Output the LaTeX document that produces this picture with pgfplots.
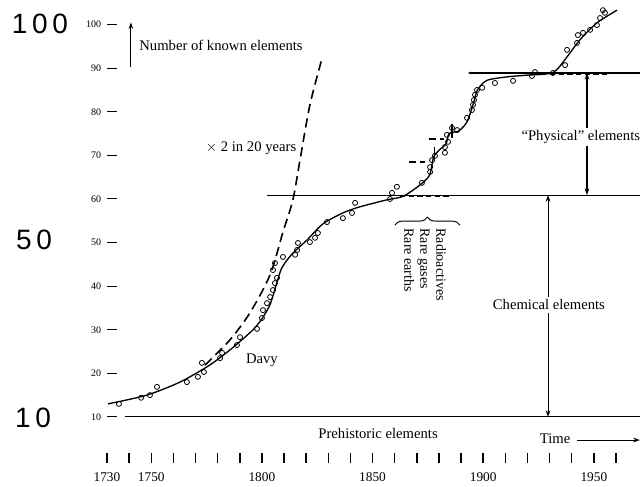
\documentclass[border=0pt]{standalone}
\usepackage{pgfplots}
\pgfplotsset{compat=1.18}
\usepackage{fontspec}
\setmainfont{Liberation Serif}
\newfontfamily\hand{Liberation Sans}
\usetikzlibrary{decorations.pathreplacing,arrows.meta}

\pgfplotstableread{
x y
1730.5 13.0
1748.0 15.0
1763.0 18.0
1775.2 21.5
1781.1 23.6
1785.6 25.4
1790.1 27.3
1796.0 30.0
1800.0 32.5
1803.7 35.8
1806.6 40.5
1809.0 44.2
1813.5 47.3
1820.4 50.6
1827.6 54.3
1836.6 56.8
1844.3 58.2
1856.5 59.8
1863.8 60.6
1871.4 63.2
1875.8 65.5
1877.6 69.6
1880.5 71.4
1883.2 72.6
1884.6 75.0
1889.0 75.6
1892.7 77.7
1895.4 81.6
1897.4 85.0
1901.7 87.2
1910.7 88.0
1919.8 88.4
1931.5 89.0
1937.9 92.6
1943.7 96.5
1951.4 100.4
1960.5 103.3
}\curve

\pgfplotstableread{
x y
1774.3 21.9
1785.6 27.7
1794.6 33.9
1803.7 42.6
1809.5 52.4
1814.0 59.8
1817.2 68.9
1821.7 81.6
1827.2 92.3
}\doubling

\pgfplotstableread{
x y
1735.4 13.0
1745.4 14.4
1749.4 15.0
1752.6 16.9
1766.1 18.0
1771.1 19.2
1772.9 22.4
1773.8 20.3
1781.1 23.5
1782.0 24.7
1788.7 26.5
1790.1 28.3
1797.8 30.2
1800.0 32.7
1800.5 34.5
1802.3 36.1
1803.7 37.5
1805.0 39.1
1805.9 40.7
1806.8 41.9
1805.0 43.7
1805.9 45.3
1809.5 46.7
1815.0 47.2
1815.9 48.3
1816.3 49.9
1821.7 50.1
1824.0 51.1
1825.3 52.2
1829.4 54.7
1836.6 55.6
1840.7 56.8
1842.1 59.1
1857.9 60.0
1858.8 61.4
1861.0 62.8
1872.3 63.7
1876.0 66.2
1876.0 67.3
1876.9 68.9
1878.2 69.9
1882.7 70.6
1882.7 71.9
1884.1 73.1
1883.6 74.7
1885.9 76.3
1888.2 75.8
1892.7 78.6
1894.9 80.4
1895.4 81.6
1895.8 82.7
1896.3 83.9
1897.2 85.0
1899.5 85.5
1905.3 86.6
1913.5 87.1
1922.0 88.2
1923.4 89.1
1931.5 88.9
1937.0 90.7
1937.9 94.2
1942.4 95.8
1942.8 97.6
1945.1 98.1
1948.3 98.8
1951.4 99.9
1952.8 101.5
1954.1 103.3
1955.0 102.7
}\points

\begin{document}
\begin{tikzpicture}
\begin{axis}[
 scale only axis, width=411.1pt, height=343.5pt,
 xmin=1725, xmax=1972.66, ymin=0.596, ymax=105.64,
 axis x line*=bottom, axis y line*=left,
 axis line style={draw=none},
 clip=false,
 xtick={1730,1740,...,1960},
 xticklabels={1730,,1750,,,,,1800,,,,,1850,,,,,1900,,,,,1950,},
 ytick={10,20,...,100},
 tick align=center,
 major tick length=7pt,
 xtick style={line width=1.1pt, black},
 ytick style={line width=0.8pt, black, xshift=12pt},
 yticklabel style={font=\fontsize{7.5}{8}\selectfont, xshift=11pt},
 xticklabel style={font=\fontsize{10}{12}\selectfont, yshift=-4pt},
 /pgf/number format/assume math mode=true,
 font=\fontsize{11}{12}\selectfont,
]
% bounding box of the whole picture
\path (axis cs:1681.65,-5.83) (axis cs:1972.66,105.64);

% reference lines
\addplot[black, line width=0.8pt] coordinates {(1738.1,10) (1970.8,10)};
\addplot[black, line width=0.8pt] coordinates {(1802.3,60.9) (1970.8,60.9)};
\addplot[black, line width=0.8pt, {Stealth[length=2.5pt,width=2pt]}-] coordinates {(1893.1,88.9) (1970.8,88.9)};

% thick dashed plateau segments
\addplot[black, line width=1.6pt, dash pattern=on 4pt off 2.5pt] coordinates {(1862.4,60.6) (1885,60.6)};
\addplot[black, line width=1.6pt, dash pattern=on 4pt off 2.5pt] coordinates {(1930.2,88.6) (1956.4,88.6)};

% tangent marks near 1875-1885
\addplot[black, line width=1.5pt, dash pattern=on 5pt off 3pt] coordinates {(1866.5,68.5) (1873.5,68.5)};
\addplot[black, line width=0.8pt] coordinates {(1877.8,68.6) (1877.8,72.0)};
\addplot[black, line width=1.5pt, dash pattern=on 5pt off 3pt] coordinates {(1875.6,73.8) (1882.4,73.8)};
\addplot[black, line width=0.8pt] coordinates {(1885.9,74.0) (1885.9,77.2)};

% doubling line
\addplot[black, line width=1.2pt, dash pattern=on 7pt off 4pt, smooth] table[x=x,y=y] {\doubling};

% fitted curve and data points
\addplot[black, line width=1pt, smooth, tension=0.45] table[x=x,y=y] {\curve};
\addplot[only marks, mark=o, mark size=1.9pt, mark options={black, line width=0.6pt, fill=white}] table[x=x,y=y] {\points};

% vertical arrows
\addplot[black, line width=0.8pt, {Stealth[length=5pt,width=3.5pt]}-{Stealth[length=5pt,width=3.5pt]}] coordinates {(1946.9,88.9) (1946.9,60.9)};
\addplot[black, line width=0.8pt, {Stealth[length=5pt,width=3.5pt]}-{Stealth[length=5pt,width=3.5pt]}] coordinates {(1929.3,60.9) (1929.3,10)};
\addplot[black, line width=0.9pt, -{Stealth[length=5pt,width=3.5pt]}] coordinates {(1740.8,90.3) (1740.8,100.5)};
\addplot[black, line width=0.8pt, -{Stealth[length=5pt,width=3.5pt]}] coordinates {(1942.4,4.7) (1970.8,4.7)};

% labels
\node[anchor=west] at (axis cs:1742.5,95.3) {Number of known elements};
\node at (axis cs:1795.1,71.7) {$\times$ 2 in 20 years};
\node at (axis cs:1800.0,23.1) {Davy};
\node[anchor=east, fill=white, inner sep=2pt] at (axis cs:1972.2,74.2) {``Physical'' elements};
\node[fill=white, inner sep=2pt] at (axis cs:1929.7,35.7) {Chemical elements};
\node at (axis cs:1852.5,6.3) {Prehistoric elements};
\node[anchor=east] at (axis cs:1941.5,4.9) {Time};
\node[rotate=-90, anchor=north west, align=left, font=\fontsize{10.5}{12}\selectfont, inner sep=1pt] at (axis cs:1884.0,53.6) {Radioactives\\Rare gases\\Rare earths};
\draw[black, line width=0.7pt, decorate, decoration={brace, amplitude=6pt}] (axis cs:1860.1,54.0) -- (axis cs:1889.5,54.0);

% handwritten annotations
\node[font=\hand\fontsize{21}{24}\selectfont] at (axis cs:1699.7,100.1) {1\,0\,0};
\node[font=\hand\fontsize{21}{24}\selectfont] at (axis cs:1697.0,50.6) {5\,0};
\node[font=\hand\fontsize{21}{24}\selectfont] at (axis cs:1696.6,9.8) {1\,0};
\end{axis}
\end{tikzpicture}
\end{document}
